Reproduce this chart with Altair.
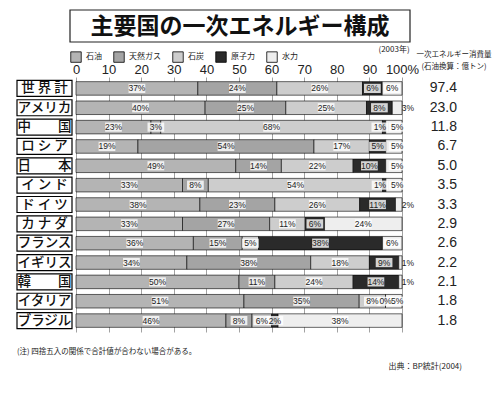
import altair as alt
import pandas as pd

title_text = "主要国の一次エネルギー構成"
countries = ["世界計", "アメリカ", "中国", "ロシア", "日本", "インド", "ドイツ",
             "カナダ", "フランス", "イギリス", "韓国", "イタリア", "ブラジル"]
labels = ["世 界 計", "アメリカ", "中　　国", "ロ シ ア", "日　　本", "イ ン ド", "ド イ ツ",
          "カ ナ ダ", "フランス", "イギリス", "韓　　国", "イタリア", "ブラジル"]
energies = ["石油", "天然ガス", "石炭", "原子力", "水力"]
oil = [37, 40, 23, 19, 49, 33, 38, 33, 36, 34, 50, 51, 46]
gas = [24, 25, 3, 54, 14, 8, 23, 27, 15, 38, 11, 35, 8]
coal = [26, 25, 68, 17, 22, 54, 26, 11, 5, 18, 24, 8, 6]
nuclear = [6, 8, 1, 5, 10, 1, 11, 6, 38, 9, 14, 0, 2]
hydro = [6, 3, 5, 5, 5, 5, 2, 24, 6, 1, 1, 5, 38]
consumption = [97.4, 23.0, 11.8, 6.7, 5.0, 3.5, 3.3, 2.9, 2.6, 2.2, 2.1, 1.8, 1.8]
colors = ["#b4b4b4", "#a4a4a4", "#cdcdcd", "#2a2a2a", "#eeeeee"]
ticks = [0, 0.1, 0.2, 0.3, 0.4, 0.5, 0.6, 0.7, 0.8, 0.9, 1.0]

rows = []
for i, lab in enumerate(labels):
    for k, (e, series) in enumerate(zip(energies, [oil, gas, coal, nuclear, hydro])):
        rows.append({"label": lab, "energy": e, "ord": k, "value": series[i]})
df = pd.DataFrame(rows)
cdf = pd.DataFrame({"label": labels, "cons": consumption})

JP = "Noto Sans CJK JP"
LAT = "Liberation Sans"

yenc = alt.Y("label:N", sort=labels, axis=None,
             scale=alt.Scale(paddingInner=0.3, paddingOuter=0.24))
xscale = alt.Scale(domain=[0, 1])
xaxis = alt.Axis(orient="top", values=ticks, title=None, grid=True,
                 gridColor="#8a8a8a", gridWidth=0.8, domain=False, ticks=False,
                 labelFontSize=13, labelFont=LAT, labelColor="#222",
                 labelPadding=1, labelOverlap=False, labelBound=False, labelFlush=False,
                 labelExpr="datum.value == 1 ? '100%' : format(datum.value*100, 'd')")

stacked = alt.Chart(df).transform_stack(
    stack="value", groupby=["label"], as_=["x0", "x1"], offset="normalize",
    sort=[alt.SortField("ord", order="ascending")]
)

bars = stacked.mark_bar(stroke="black", strokeWidth=0.6).encode(
    x=alt.X("x0:Q", scale=xscale, axis=xaxis),
    x2="x1:Q",
    y=yenc,
    color=alt.Color("energy:N", sort=energies,
                    scale=alt.Scale(domain=energies, range=colors),
                    legend=alt.Legend(orient="none", legendX=-6, legendY=-26,
                                      direction="horizontal", title=None,
                                      symbolType="square", symbolSize=110,
                                      symbolStrokeColor="black", symbolStrokeWidth=0.8,
                                      labelFont=JP, labelFontSize=8, labelColor="#222",
                                      columnPadding=10, labelOffset=4)),
    order=alt.Order("ord:Q"),
)

lab_base = stacked.transform_calculate(
    mid="datum.ord == 4 && datum.value <= 3 ? 1.018 : "
        "(datum.ord == 4 && datum.value <= 5 ? 0.985 : "
        "(datum.ord == 3 && datum.value <= 1 ? datum.x0 - 0.008 * datum.value : (datum.x0 + datum.x1) / 2))",
    txt="datum.value + '%'",
    inside="datum.ord == 4 && datum.value <= 3 ? 0 : 1",
)
boxes = lab_base.transform_filter("datum.inside == 1").mark_point(
    shape="M-1,-0.55L1,-0.55L1,0.55L-1,0.55Z", filled=True, fill="white",
    opacity=0.8, size=280, strokeWidth=0
).encode(x=alt.X("mid:Q", scale=xscale, axis=xaxis), y=yenc)
seg_text = lab_base.mark_text(fontSize=8.5, font=LAT, color="#222", baseline="middle").encode(
    x=alt.X("mid:Q", scale=xscale, axis=xaxis), y=yenc, text="txt:N"
)

name_box = alt.Chart(cdf).mark_bar(fill="white", stroke="black", strokeWidth=1.2, height=16).encode(
    x=alt.value(-59), x2=alt.value(-4), y=yenc
)
name_text = alt.Chart(cdf).mark_text(fontSize=13.5, font=JP, fontWeight=500, color="#111",
                                     baseline="middle").encode(
    x=alt.value(-31.5), y=yenc, text="label:N"
)
cons_text = alt.Chart(cdf).mark_text(fontSize=14, font=LAT, color="#222", align="right",
                                     baseline="middle").encode(
    x=alt.value(381), y=yenc, text=alt.Text("cons:Q", format=".1f")
)

tdf = pd.DataFrame({"t": [title_text]})
title_box = alt.Chart(tdf).mark_rect(fill="white", stroke="#222", strokeWidth=1.2).encode(
    x=alt.value(-6), x2=alt.value(334), y=alt.value(-67), y2=alt.value(-35)
)
title = alt.Chart(tdf).mark_text(fontSize=23, fontWeight="bold", font=JP, color="#111",
                                 baseline="middle").encode(
    x=alt.value(164), y=alt.value(-50), text="t:N"
)

year_t = alt.Chart(pd.DataFrame({"t": ["(2003年)"]})).mark_text(
    fontSize=8, font=JP, color="#222", baseline="middle").encode(
    x=alt.value(318), y=alt.value(-27), text="t:N")
head1 = alt.Chart(pd.DataFrame({"t": ["一次エネルギー消費量"]})).mark_text(
    fontSize=7.5, font=JP, color="#222", baseline="middle").encode(
    x=alt.value(378), y=alt.value(-22), text="t:N")
head2 = alt.Chart(pd.DataFrame({"t": ["(石油換算：億トン)"]})).mark_text(
    fontSize=7.5, font=JP, color="#222", baseline="middle").encode(
    x=alt.value(378), y=alt.value(-10), text="t:N")
note = alt.Chart(pd.DataFrame({"t": ["(注) 四捨五入の関係で合計値が合わない場合がある。"]})).mark_text(
    fontSize=7.5, font=JP, color="#222", align="left", baseline="middle").encode(
    x=alt.value(-59), y=alt.value(275), text="t:N")
source = alt.Chart(pd.DataFrame({"t": ["出典：BP統計(2004)"]})).mark_text(
    fontSize=8, font=JP, color="#222", align="right", baseline="middle").encode(
    x=alt.value(386), y=alt.value(290), text="t:N")

chart = alt.layer(
    bars, boxes, seg_text, name_box, name_text, cons_text,
    title_box, title, year_t, head1, head2, note, source
).properties(
    width=326, height=255,
    padding={"left": 68, "top": 69, "right": 90, "bottom": 48},
    autosize=alt.AutoSizeParams(type="none"),
    background="white",
).configure_view(stroke=None)

chart.save("out.html", embed_options={"renderer": "svg", "actions": False})
